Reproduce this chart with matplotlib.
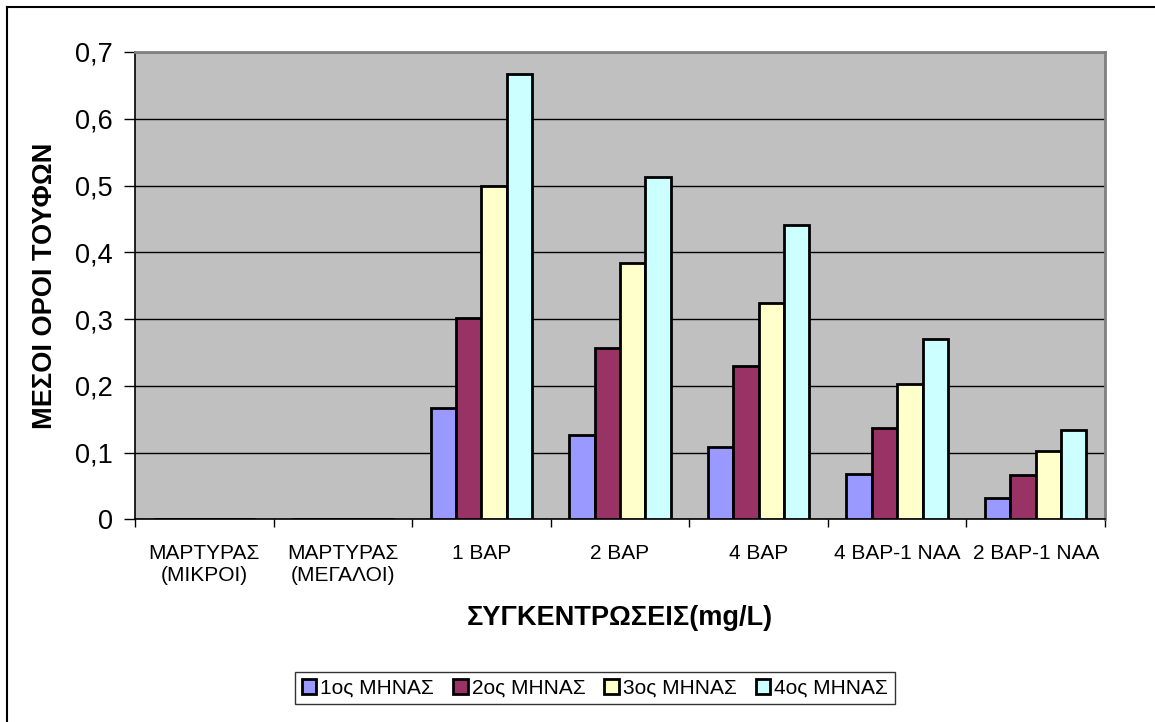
import matplotlib
matplotlib.use("Agg")
import matplotlib.pyplot as plt
from matplotlib.lines import Line2D
import numpy as np

plt.rcParams['font.family'] = ['Liberation Sans', 'DejaVu Sans']

categories = ["ΜΑΡΤΥΡΑΣ\n(ΜΙΚΡΟΙ)", "ΜΑΡΤΥΡΑΣ\n(ΜΕΓΑΛΟΙ)", "1 BAP", "2 BAP",
              "4 BAP", "4 BAP-1 NAA", "2 BAP-1 NAA"]
month1 = [0, 0, 0.166, 0.127, 0.109, 0.0685, 0.032]
month2 = [0, 0, 0.302, 0.256, 0.230, 0.1375, 0.067]
month3 = [0, 0, 0.499, 0.384, 0.324, 0.2025, 0.102]
month4 = [0, 0, 0.667, 0.513, 0.4405, 0.270, 0.1345]
series_names = ["1ος ΜΗΝΑΣ", "2ος ΜΗΝΑΣ", "3ος ΜΗΝΑΣ", "4ος ΜΗΝΑΣ"]
y_ticks = [0, 0.1, 0.2, 0.3, 0.4, 0.5, 0.6, 0.7]
y_tick_labels = ["0", "0,1", "0,2", "0,3", "0,4", "0,5", "0,6", "0,7"]

colors = ["#9999FF", "#993366", "#FFFFCC", "#CCFFFF"]

W, H = 1155, 722
fig = plt.figure(figsize=(W / 100, H / 100), dpi=100)
ax = fig.add_axes([135 / W, 1 - 519.3 / H, 970 / W, 467.3 / H])
ax.set_facecolor("#C0C0C0")

n = len(categories)
x = np.arange(n)
bw = 0.183
offsets = (np.arange(4) - 1.5) * bw
for vals, off, c, name in zip([month1, month2, month3, month4], offsets, colors, series_names):
    ax.bar(x + off, vals, width=bw, color=c, edgecolor="black", linewidth=2,
           label=name, zorder=3)

ax.set_xlim(-0.5, n - 0.5)
ax.set_ylim(0, 0.7)
ax.set_yticks(y_ticks)
ax.set_yticklabels(y_tick_labels, fontsize=19.5)
ax.yaxis.grid(True, color="black", linewidth=1.0, zorder=1)
ax.set_axisbelow(True)

# category labels at centres, tick marks at category boundaries
ax.set_xticks(x)
ax.set_xticklabels(categories, fontsize=15)
ax.tick_params(axis="x", which="major", length=0, pad=18)
ax.set_xticks(np.arange(n + 1) - 0.5, minor=True)
ax.tick_params(axis="x", which="minor", length=6, width=1, color="black")
ax.tick_params(axis="y", length=8, width=1, color="black", pad=8)

for side in ["left", "bottom"]:
    ax.spines[side].set_color("black")
    ax.spines[side].set_linewidth(1.2)
for side in ["top", "right"]:
    ax.spines[side].set_color("#808080")
    ax.spines[side].set_linewidth(2)

fig.text(45 / W, 1 - 285.6 / H, "ΜΕΣΟΙ ΟΡΟΙ ΤΟΥΦΩΝ", rotation=90, fontsize=19.5,
         fontweight="bold", ha="center", va="center")
fig.text(620 / W, 1 - 618 / H, "ΣΥΓΚΕΝΤΡΩΣΕΙΣ(mg/L)", fontsize=19.5,
         fontweight="bold", ha="center", va="center")

leg = fig.legend(loc="center", bbox_to_anchor=(595 / W, 1 - 688 / H), ncol=4,
                 fontsize=15, frameon=True, fancybox=False, edgecolor="black",
                 handlelength=0.7, handleheight=0.7, handletextpad=0.2,
                 columnspacing=0.9, borderpad=0.3, borderaxespad=0)
leg.get_frame().set_linewidth(1.0)

# outer chart border (left and top edges)
fig.add_artist(Line2D([7 / W, 7 / W], [0, 1 - 7 / H], color="black", linewidth=1.5,
                      transform=fig.transFigure))
fig.add_artist(Line2D([7 / W, 1], [1 - 7 / H, 1 - 7 / H], color="black", linewidth=1.5,
                      transform=fig.transFigure))

fig.savefig("out.png", dpi=100)
